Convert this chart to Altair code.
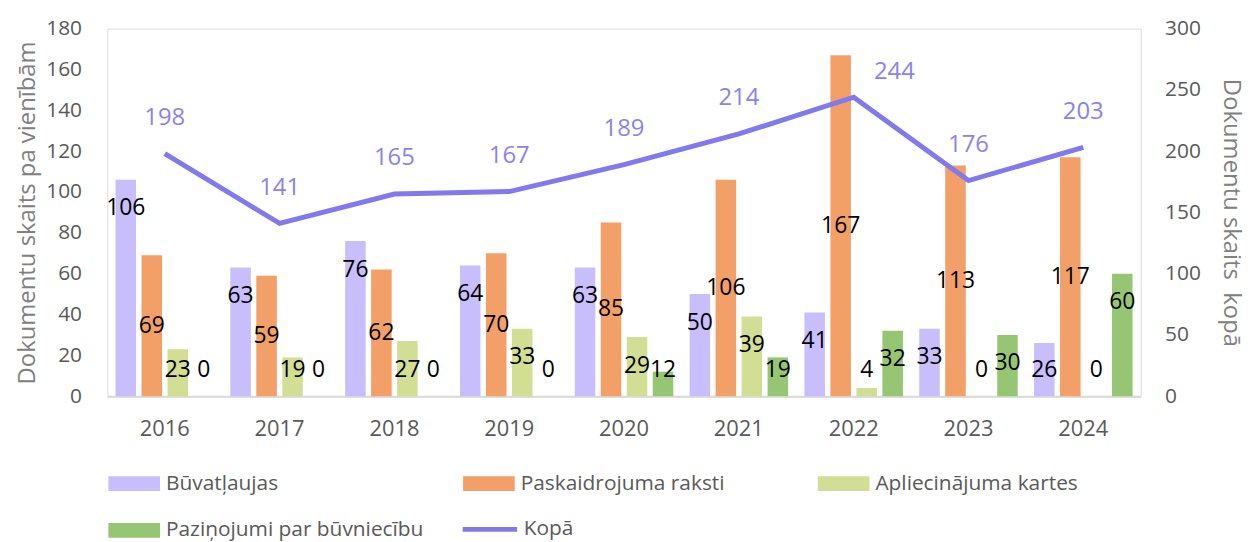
import altair as alt
import pandas as pd

years = ["2016", "2017", "2018", "2019", "2020", "2021", "2022", "2023", "2024"]
series_names = ["Būvatļaujas", "Paskaidrojuma raksti", "Apliecinājuma kartes", "Paziņojumi par būvniecību"]
buvatlaujas = [106, 63, 76, 64, 63, 50, 41, 33, 26]
paskaidrojuma = [69, 59, 62, 70, 85, 106, 167, 113, 117]
apliecinajuma = [23, 19, 27, 33, 29, 39, 4, 0, 0]
pazinojumi = [0, 0, 0, 0, 12, 19, 32, 30, 60]
kopa = [198, 141, 165, 167, 189, 214, 244, 176, 203]
line_name = "Kopā"

bar_colors = ["#c8befc", "#f2a068", "#d2de94", "#96c673"]
line_color = "#8179ec"
label_line_color = "#8a82ee"
FONT = "Open Sans"

rows = []
for s, vals in zip(series_names, [buvatlaujas, paskaidrojuma, apliecinajuma, pazinojumi]):
    for y, v in zip(years, vals):
        rows.append({"year": y, "series": s, "value": v})
bars_df = pd.DataFrame(rows)
line_df = pd.DataFrame({"year": years, "total": kopa, "name": [line_name] * len(years)})

x_enc = alt.X("year:N", sort=years,
              scale=alt.Scale(paddingInner=0.142, paddingOuter=0.071),
              axis=alt.Axis(title=None, labelAngle=0, labelFontSize=22, labelColor="#595959",
                            labelFont=FONT, labelPadding=23, ticks=False,
                            domainColor="#d9d9d9", domainWidth=2))
xoff = alt.XOffset("series:N", sort=series_names,
                   scale=alt.Scale(paddingInner=0.21, paddingOuter=0))
y_left = alt.Y("value:Q",
               scale=alt.Scale(domain=[0, 180], nice=False),
               axis=alt.Axis(title="Dokumentu skaits pa vienībām", values=list(range(0, 181, 20)),
                             grid=False, domain=False, ticks=False, labelFontSize=21,
                             labelColor="#595959", labelFont=FONT, labelPadding=26,
                             titleFont=FONT, titleFontSize=24, titleFontWeight="normal",
                             titleColor="#808080", titlePadding=6))

bars = alt.Chart(bars_df).mark_bar().encode(
    x=x_enc,
    xOffset=xoff,
    y=y_left,
    color=alt.Color("series:N", sort=series_names,
                    scale=alt.Scale(domain=series_names, range=bar_colors),
                    legend=alt.Legend(title=None, orient="none", legendX=1, legendY=432,
                                      direction="horizontal",
                                      columns=3, gridAlign="all", columnPadding=39,
                                      rowPadding=11, labelFontSize=21, labelFont=FONT,
                                      labelColor="#595959", labelLimit=500, labelOffset=6,
                                      symbolType="M-1,-0.288H1V0.288H-1Z", symbolSize=2704,
                                      symbolStrokeWidth=0, symbolOpacity=1)),
)

bar_labels = alt.Chart(bars_df).transform_calculate(
    lab_y="datum.series == 'Paskaidrojuma raksti' ? datum.value / 2 : max(datum.value - 14, 13)"
).mark_text(fontSize=23, font=FONT, color="#000000", baseline="middle", align="center").encode(
    x=alt.X("year:N", sort=years),
    xOffset=xoff,
    y=alt.Y("lab_y:Q"),
    text=alt.Text("value:Q"),
)

left = alt.layer(bars, bar_labels)

y_right = alt.Y("total:Q",
                scale=alt.Scale(domain=[0, 300], nice=False),
                axis=alt.Axis(title="Dokumentu skaits\u00a0 kopā", values=list(range(0, 301, 50)),
                              orient="right", grid=False, domain=False, ticks=False,
                              labelFontSize=21, labelColor="#595959", labelFont=FONT,
                              labelPadding=24, titleFont=FONT, titleFontSize=24,
                              titleFontWeight="normal", titleColor="#808080", titlePadding=18))

line = alt.Chart(line_df).mark_line(strokeWidth=5, strokeJoin="miter").encode(
    x=alt.X("year:N", sort=years),
    y=y_right,
    color=alt.Color("name:N", scale=alt.Scale(domain=[line_name], range=[line_color]),
                    legend=alt.Legend(title=None, orient="none", legendX=355, legendY=474,
                                      labelFontSize=21, labelFont=FONT, labelColor="#595959",
                                      labelOffset=4, symbolType="stroke", symbolSize=3000,
                                      symbolStrokeWidth=5)),
)

line_labels = alt.Chart(line_df).transform_filter("datum.year != '2022'").mark_text(
    fontSize=24, font=FONT, color=label_line_color, dy=-36, baseline="middle"
).encode(x=alt.X("year:N", sort=years), y=alt.Y("total:Q"), text=alt.Text("total:Q"))

line_label_peak = alt.Chart(line_df).transform_filter("datum.year == '2022'").mark_text(
    fontSize=24, font=FONT, color=label_line_color, dy=-25, dx=41, baseline="middle"
).encode(x=alt.X("year:N", sort=years), y=alt.Y("total:Q"), text=alt.Text("total:Q"))

right = alt.layer(line, line_labels, line_label_peak)

chart = alt.layer(left, right).resolve_scale(y="independent", color="independent").properties(
    width=1040, height=370,
    autosize=alt.AutoSizeParams(type="none"),
    padding={"left": 100, "top": 19, "right": 111, "bottom": 145},
).configure_view(stroke=None).configure(background="white")

chart.save("out.html", embed_options={"renderer": "svg", "actions": False})
